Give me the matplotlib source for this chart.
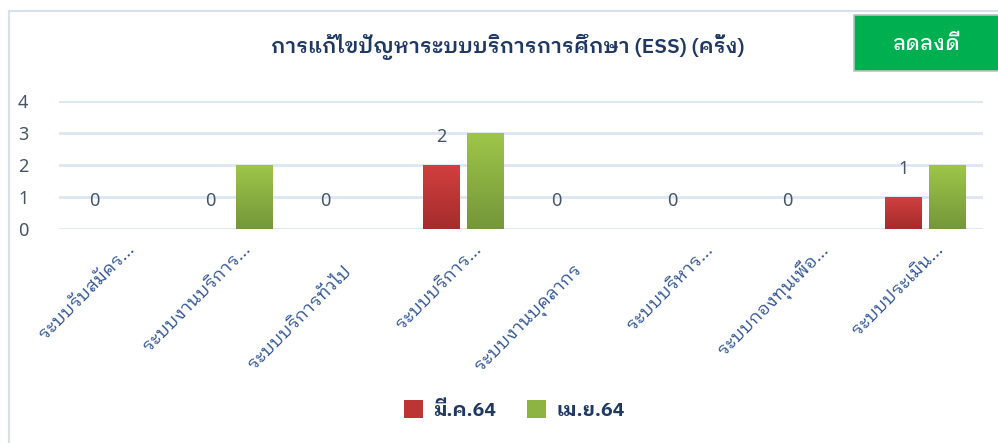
import matplotlib
matplotlib.use('Agg')
import matplotlib.pyplot as plt
import matplotlib.font_manager as fm
import matplotlib.transforms as mtransforms
from matplotlib.patches import Rectangle
from matplotlib.colors import LinearSegmentedColormap
import numpy as np

# data
categories = ['ระบบรับสมัคร...', 'ระบบงานบริการ...', 'ระบบบริการทั่วไป', 'ระบบบริการ...',
              'ระบบงานบุคลากร', 'ระบบบริหาร...', 'ระบบกองทุนเพื่อ...', 'ระบบประเมิน...']
mar64 = [0, 0, 0, 2, 0, 0, 0, 1]
apr64 = [0, 2, 0, 3, 0, 0, 0, 2]
series_names = ['มี.ค.64', 'เม.ย.64']
title = 'การแก้ไขปัญหาระบบบริการการศึกษา (ESS) (ครั้ง)'
badge = 'ลดลงดี'

# thai font (looped style)
thai_font = None
for path in fm.findSystemFonts():
    fname = path.split('/')[-1]
    if fname.startswith('IBMPlexSansThaiLooped-') and fname.split('-')[1] in ('Regular.ttf', 'Medium.ttf', 'SemiBold.ttf', 'Bold.ttf'):
        fm.fontManager.addfont(path)
        thai_font = fm.FontProperties(fname=path).get_name()
families = ([thai_font] if thai_font else []) + ['Noto Sans', 'DejaVu Sans']
plt.rcParams['font.family'] = families
num_family = ['Noto Sans', 'DejaVu Sans']

text_blue = '#2f5597'
title_blue = '#1f3864'
num_col = '#44546a'
grid_col = '#dce6f2'

fig = plt.figure(figsize=(9.98, 4.43), dpi=100)

# card border and badge
fig.patches.append(Rectangle((9 / 998, -0.1), 1.1, (443 - 11) / 443 + 0.1, transform=fig.transFigure,
                             fill=False, edgecolor='#d5e1ef', linewidth=1.5))
fig.patches.append(Rectangle((854 / 998, (443 - 71) / 443), 0.2, 56 / 443, transform=fig.transFigure,
                             facecolor='#00b050', edgecolor='#c0c0c0', linewidth=1.2))
fig.text(926 / 998, (443 - 44) / 443, badge, color='white', fontsize=15, fontweight='medium',
         ha='center', va='center')
fig.text(508 / 998, (443 - 47) / 443, title, color=title_blue, fontsize=15, fontweight='semibold',
         ha='center', va='center')

ax = fig.add_axes([59 / 998, 214 / 443, 924 / 998, 128 / 443])
x = np.arange(len(categories))
w = 0.32
off = 0.19
bars1 = ax.bar(x - off, mar64, w, color='#c0393b', zorder=2, label=series_names[0])
bars2 = ax.bar(x + off, apr64, w, color='#8db443', zorder=2, label=series_names[1])

# gradient fill for the bars
red_cm = LinearSegmentedColormap.from_list('r', ['#a52c2c', '#d13f3f'])
green_cm = LinearSegmentedColormap.from_list('g', ['#74973a', '#9dc649'])
grad = np.linspace(0, 1, 100).reshape(-1, 1)
for bars, cm in [(bars1, red_cm), (bars2, green_cm)]:
    for b in bars:
        if b.get_height() <= 0:
            continue
        b.set_facecolor('none')
        b.set_edgecolor('none')
        bx, by = b.get_x(), b.get_y()
        ax.imshow(grad, extent=[bx, bx + b.get_width(), by, by + b.get_height()], origin='lower',
                  cmap=cm, aspect='auto', zorder=2)

# data labels for first series
for xi, v in zip(x, mar64):
    ax.text(xi - off, v + 0.88, str(v), color=num_col, fontsize=13, ha='center', va='center',
            family=num_family)

ax.set_xlim(-0.5, len(categories) - 0.5)
ax.set_ylim(0, 4)
ax.set_yticks(range(5))
ax.set_xticks(x)
ax.set_xticklabels([])
ax.grid(axis='y', color=grid_col, linewidth=2, zorder=0)
ax.set_axisbelow(True)
for s in ax.spines.values():
    s.set_visible(False)
ax.tick_params(axis='both', length=0)
ax.tick_params(axis='y', labelsize=13, labelcolor=num_col, pad=22)
for t in ax.get_yticklabels():
    t.set_family(num_family)

# category labels, rotated; truncated ones sit higher than the full ones
for xi, lab in zip(x, categories):
    if lab.endswith('...'):
        dx, dy = 0.09, -0.11
    else:
        dx, dy = -0.05, -0.33
    tr = ax.get_xaxis_transform() + mtransforms.ScaledTranslation(dx, dy, fig.dpi_scale_trans)
    ax.text(xi, 0, lab, transform=tr, rotation=45, ha='right', va='top', rotation_mode='anchor',
            fontsize=13, color=text_blue, clip_on=False)

leg = fig.legend(handles=[bars1[3], bars2[3]], labels=series_names, loc='center',
                 bbox_to_anchor=(514 / 998, (443 - 410) / 443), ncol=2, frameon=False,
                 handlelength=1.0, handleheight=1.0, columnspacing=1.6, handletextpad=0.5,
                 prop={'size': 14, 'weight': 'bold'})
leg.legend_handles[0].set_facecolor('#bb3535')
leg.legend_handles[1].set_facecolor('#8db443')
for t in leg.get_texts():
    t.set_color(title_blue)

fig.savefig('out.png', dpi=100)
